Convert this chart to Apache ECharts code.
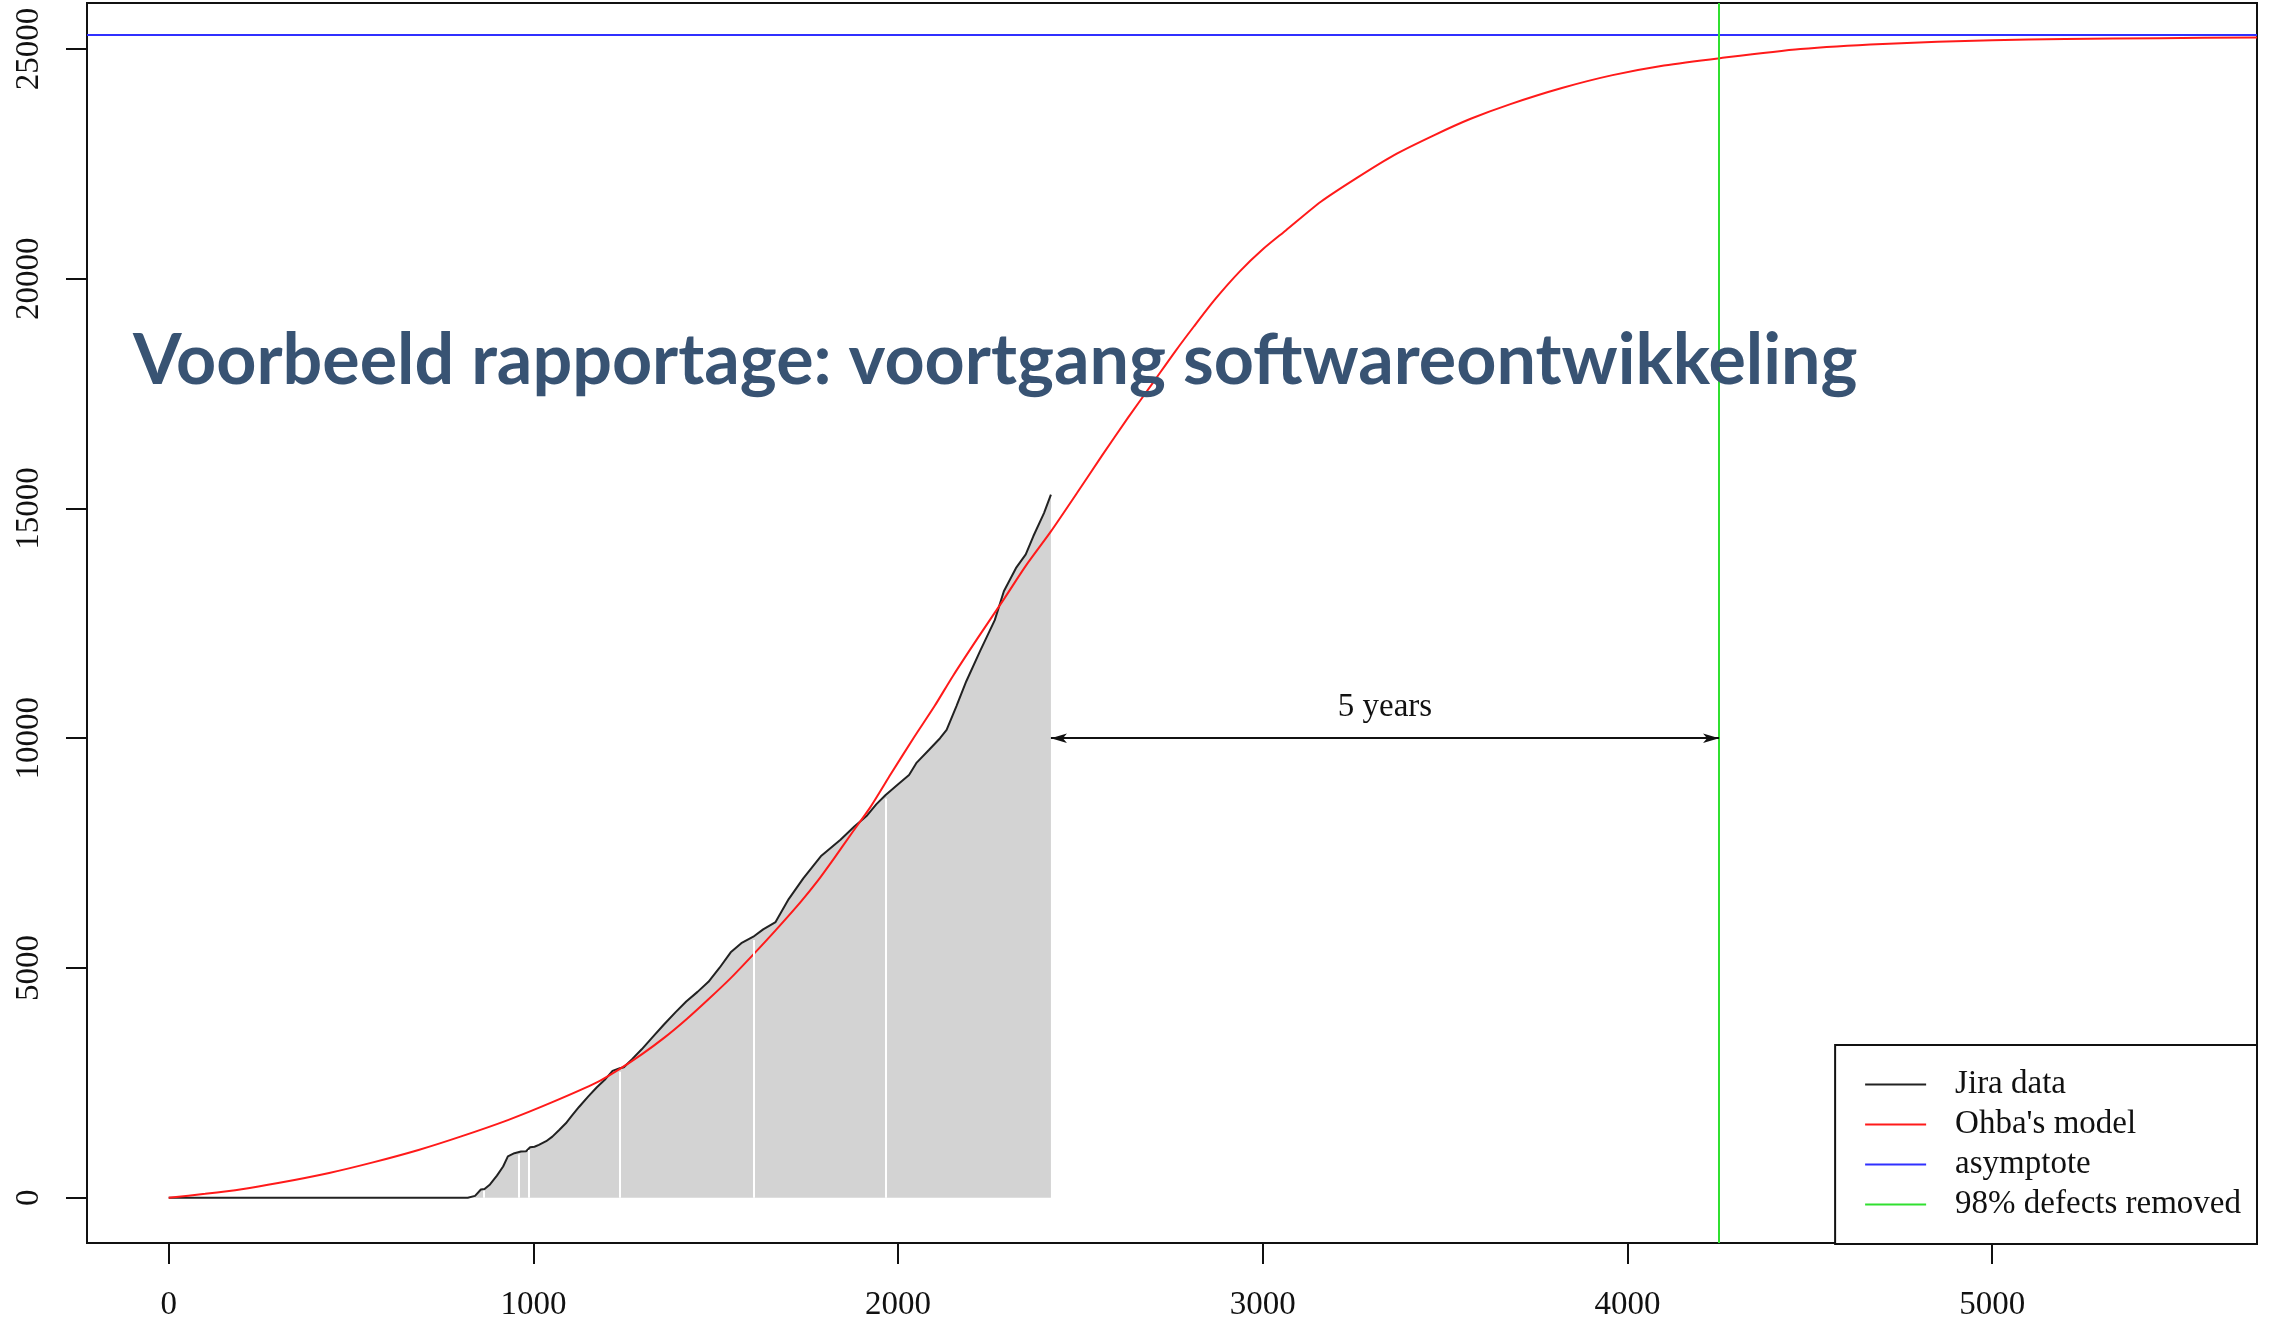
<!DOCTYPE html>
<html>
<head>
<meta charset="utf-8">
<title>Voortgang softwareontwikkeling</title>
<script src="https://cdn.jsdelivr.net/npm/echarts@6/dist/echarts.min.js"></script>
<style>
  html, body { margin: 0; padding: 0; background: #fff; }
  #chart { width: 2275px; height: 1322px; }
</style>
</head>
<body>
<div id="chart"></div>
<script>
  // tick labels
  const xTicks = [0, 1000, 2000, 3000, 4000, 5000]
  const yTicks = [0, 5000, 10000, 15000, 20000, 25000]

  // cumulative defects from Jira
  const jiraDays = [0, 100, 300, 500, 700, 820, 840, 856, 866, 881, 900, 917, 930, 948, 966, 980, 991, 1003, 1015, 1035,
    1052, 1070, 1089, 1105, 1125, 1150, 1174, 1195, 1217, 1237, 1248, 1270, 1297, 1325, 1358, 1390, 1419, 1450, 1480, 1510,
    1541, 1570, 1603, 1630, 1664, 1700, 1740, 1788, 1842, 1880, 1915, 1940, 1965, 2000, 2030, 2051, 2085, 2115, 2133, 2160,
    2187, 2225, 2265, 2290, 2323, 2350, 2371, 2400, 2419]
  const jiraCount = [0, 0, 0, 0, 0, 0, 40, 180, 190, 290, 480, 680, 900, 970, 1005, 1010, 1098, 1110, 1150, 1230,
    1330, 1470, 1620, 1780, 1975, 2200, 2405, 2560, 2760, 2820, 2840, 3010, 3230, 3480, 3770, 4040, 4270, 4480, 4700, 5000,
    5340, 5540, 5680, 5840, 6000, 6500, 6950, 7430, 7790, 8080, 8320, 8560, 8760, 9000, 9200, 9470, 9750, 10000, 10180, 10700,
    11240, 11900, 12570, 13200, 13700, 14000, 14400, 14900, 15300]

  // Ohba's model curve
  const modelDays = [0, 100, 200, 300, 440, 560, 685, 800, 930, 1052, 1174, 1236, 1297, 1360, 1419, 1480, 1541, 1600, 1664, 1733,
    1780, 1824, 1870, 1924, 1980, 2042, 2100, 2150, 2220, 2292, 2350, 2419, 2490, 2559, 2630, 2700, 2760, 2811, 2870, 2937,
    3000, 3063, 3160, 3259, 3360, 3469, 3570, 3679, 3820, 3959, 4100, 4253, 4474, 4700, 5000, 5200, 5459, 5726]
  const modelCount = [0, 85, 185, 320, 540, 770, 1040, 1330, 1690, 2080, 2510, 2800, 3120, 3490, 3880, 4320, 4780, 5270, 5820, 6440,
    6900, 7380, 7900, 8500, 9220, 10000, 10700, 11350, 12200, 13050, 13750, 14500, 15330, 16150, 16970, 17750, 18420, 18960, 19560, 20160,
    20640, 21050, 21680, 22200, 22690, 23120, 23480, 23800, 24150, 24430, 24640, 24800, 25000, 25110, 25190, 25215, 25235, 25250]

  const asymptote = 25310
  const removed98Day = 4251

  const spanStart = 2419
  const spanEnd = 4251
  const spanY = 10000
  const spanLabel = '5 years'

  // thin white seams in the grey polygon
  const gapDays = [865, 961, 988, 1237, 1603, 1965]
  const gapTops = [150, 940, 1040, 2740, 5610, 8690]

  const serif = 'Liberation Serif'

  let myChart = echarts.init(document.getElementById('chart'))
  myChart.setOption({
    animation: false,
    backgroundColor: '#fff',
    title: {
      text: 'Voorbeeld rapportage: voortgang softwareontwikkeling',
      left: 133,
      top: 326,
      padding: 0,
      textStyle: {
        fontFamily: 'Lato',
        fontWeight: 'bold',
        fontSize: 70,
        color: '#385373'
      }
    },
    grid: {
      left: 87,
      right: 18,
      top: 3,
      bottom: 78,
      show: true,
      borderColor: '#111',
      borderWidth: 2,
      backgroundColor: 'transparent'
    },
    legend: {
      data: ['Jira data', "Ohba's model", 'asymptote', '98% defects removed'],
      orient: 'vertical',
      right: 18,
      bottom: 78,
      selectedMode: false,
      icon: 'rect',
      itemWidth: 61,
      itemHeight: 2,
      itemGap: 7,
      padding: [23, 16, 23, 30],
      backgroundColor: '#fff',
      borderColor: '#111',
      borderWidth: 2,
      borderRadius: 0,
      itemStyle: { borderWidth: 0 },
      textStyle: {
        fontFamily: serif,
        fontSize: 33,
        lineHeight: 33,
        color: '#111',
        padding: [0, 0, 0, 24]
      }
    },
    xAxis: {
      type: 'value',
      min: -224,
      max: 5726,
      axisLine: { show: false, onZero: false },
      splitLine: { show: false },
      axisTick: {
        show: true,
        length: 21,
        customValues: xTicks,
        lineStyle: { color: '#111', width: 2 }
      },
      axisLabel: {
        customValues: xTicks,
        formatter: v => String(v),
        margin: 46,
        fontFamily: serif,
        fontSize: 33,
        color: '#111'
      }
    },
    yAxis: {
      type: 'value',
      min: -985,
      max: 26000,
      axisLine: { show: false, onZero: false },
      splitLine: { show: false },
      axisTick: {
        show: true,
        length: 21,
        customValues: yTicks,
        lineStyle: { color: '#111', width: 2 }
      },
      axisLabel: {
        customValues: yTicks,
        formatter: v => String(v),
        rotate: 90,
        margin: 41,
        fontFamily: serif,
        fontSize: 33,
        color: '#111'
      }
    },
    series: [
      {
        name: 'Jira data',
        type: 'line',
        color: '#222',
        symbol: 'none',
        data: jiraDays.map((d, i) => [d, jiraCount[i]]),
        lineStyle: { color: '#222', width: 2 },
        areaStyle: { color: '#d3d3d3', opacity: 1 },
        z: 2,
        markLine: {
          silent: true,
          symbol: 'none',
          label: { show: false },
          lineStyle: { color: '#fff', width: 2, type: 'solid' },
          data: gapDays.map((d, i) => [{ coord: [d, 0] }, { coord: [d, gapTops[i]] }])
        }
      },
      {
        name: "Ohba's model",
        type: 'line',
        color: '#ff1a1a',
        symbol: 'none',
        smooth: 0.25,
        data: modelDays.map((d, i) => [d, modelCount[i]]),
        lineStyle: { color: '#ff1a1a', width: 2 },
        z: 4
      },
      {
        name: 'asymptote',
        type: 'line',
        color: '#3030ff',
        data: [],
        markLine: {
          silent: true,
          symbol: 'none',
          label: { show: false },
          lineStyle: { color: '#3030ff', width: 2, type: 'solid' },
          data: [{ yAxis: asymptote }]
        }
      },
      {
        name: '98% defects removed',
        type: 'line',
        color: '#30e030',
        data: [],
        markLine: {
          silent: true,
          symbol: 'none',
          label: { show: false },
          lineStyle: { color: '#30e030', width: 2, type: 'solid' },
          data: [{ xAxis: removed98Day }]
        }
      },
      {
        name: 'span',
        type: 'line',
        data: [],
        markLine: {
          silent: true,
          symbol: ['arrow', 'arrow'],
          symbolSize: [7, 16],
          lineStyle: { color: '#111', width: 2, type: 'solid' },
          label: {
            show: true,
            position: 'middle',
            formatter: spanLabel,
            distance: 14,
            fontFamily: serif,
            fontSize: 33,
            color: '#111'
          },
          data: [[{ coord: [spanStart, spanY] }, { coord: [spanEnd, spanY] }]]
        }
      }
    ]
  })
</script>
</body>
</html>
